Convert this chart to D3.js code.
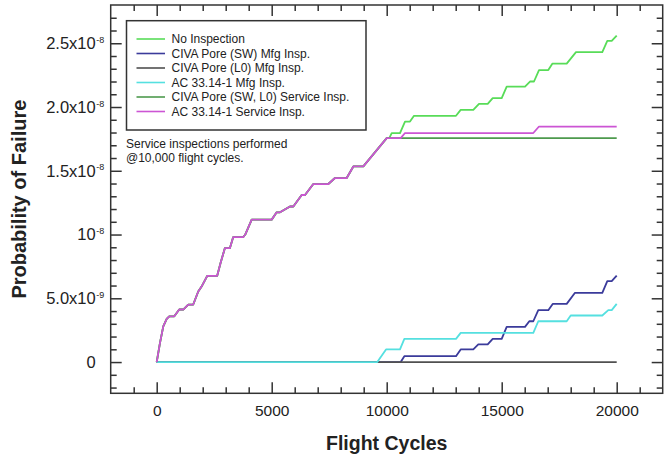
<!DOCTYPE html>
<html>
<head>
<meta charset="utf-8">
<script src="https://d3js.org/d3.v7.min.js"></script>
<style>
  body { margin: 0; background: #fff; }
  svg text { font-family: "Liberation Sans", Arial, sans-serif; fill: #222; }
</style>
</head>
<body>
<div id="chart"></div>
<script>
// probability of failure in units of 1e-9, flight cycles on x
// curve shared by all "no inspection" style series up to the 10,000 cycle inspection
var preInspection = [[0,0],[143,1.5],[286,2.8],[435,3.39],[547,3.59],[764,3.59],[980,4.12],[1155,4.12],
  [1371,4.51],[1588,4.51],[1806,5.53],[1952,5.92],[2197,6.76],[2630,6.76],[2776,7.76],[2963,8.93],
  [3180,8.93],[3324,9.79],[3757,9.79],[3850,10.0],[4130,11.17],[5000,11.17],[5217,11.74],[5361,11.74],
  [5796,12.2],[5940,12.2],[6304,13.1],[6448,13.1],[6810,13.96],[7461,13.96],[7752,14.43],[8261,14.43],
  [8550,15.34],[8983,15.34],[10000,17.56]];
var noInspectionAfter = [[10113,17.56],[10217,17.96],[10578,17.96],[10796,18.86],[11013,18.86],[11187,19.31],
  [13013,19.31],[13217,19.78],[13765,19.78],[14013,20.25],[14391,20.25],[14609,20.7],[15000,20.7],
  [15217,21.6],[16013,21.6],[16230,22.0],[16404,22.0],[16622,22.9],[17026,22.9],[17200,23.4],[17826,23.4],
  [18230,24.3],[19374,24.3],[19591,25.18],[19783,25.18],[20000,25.6]];
var civaSwMfg = [[0,0],[10609,0],[10767,0.46],[13013,0.46],[13217,0.99],[13765,0.99],[13983,1.38],[14391,1.38],
  [14609,1.82],[15000,1.82],[15217,2.76],[16013,2.76],[16200,3.2],[16374,3.2],[16591,4.07],[17026,4.07],
  [17217,4.56],[17826,4.56],[18187,5.43],[19374,5.43],[19591,6.34],[19783,6.34],[20000,6.78]];
var civaL0Mfg = [[0,0],[20000,0]];
var acMfg = [[0,0],[9591,0],[9970,0.99],[10578,0.99],[10767,1.82],[13013,1.82],[13217,2.29],[16374,2.29],
  [16591,3.2],[17826,3.2],[18000,3.65],[19374,3.65],[19635,4.07],[19783,4.07],[20000,4.56]];
var civaServiceAfter = [[20000,17.56]];
var acServiceAfter = [[10609,17.56],[10796,17.96],[16374,17.96],[16622,18.47],[20000,18.47]];

var seriesNames = ["No Inspection", "CIVA Pore (SW) Mfg Insp.", "CIVA Pore (L0) Mfg Insp.",
  "AC 33.14-1 Mfg Insp.", "CIVA Pore (SW, L0) Service Insp.", "AC 33.14-1 Service Insp."];
var seriesColors = ["#58dc58", "#3b3b9b", "#505050", "#55e0e0", "#4e9a4e", "#cc55d4"];

var xMajor = [0, 5000, 10000, 15000, 20000];
var yTickValues = [0, 5, 10, 15, 20, 25];
var yTickBase = ["0", "5.0x10", "10", "1.5x10", "2.0x10", "2.5x10"];
var yTickSup = ["", "-9", "-8", "-8", "-8", "-8"];

var series = [
  preInspection.concat(noInspectionAfter),
  civaSwMfg,
  civaL0Mfg,
  acMfg,
  preInspection.concat(civaServiceAfter),
  preInspection.concat(acServiceAfter)
].map(function(v, i) { return {name: seriesNames[i], color: seriesColors[i], values: v}; });

var width = 670, height = 458;
var plotLeft = 110.7, plotRight = 662.7, plotTop = 5, plotBottom = 393.3;

var svg = d3.select("#chart").append("svg")
  .attr("width", width).attr("height", height);

var x = d3.scaleLinear().domain([-2000, 22000]).range([plotLeft, plotRight]);
var y = d3.scaleLinear().domain([-2.45, 28]).range([plotBottom, plotTop]);

var xMinor = d3.range(-1000, 22000, 1000).filter(function(d) { return d % 5000 !== 0; });
var yMinor = d3.range(-2, 28, 1).filter(function(d) { return d % 5 !== 0; });
var yMajor = d3.range(0, 28, 5);

function clean(g) {
  g.select(".domain").remove();
  g.selectAll("line").attr("stroke", "#333").attr("stroke-width", 1.5);
}

// ticks point inward on all four sides
svg.append("g").attr("transform", "translate(0," + plotBottom + ")")
  .call(d3.axisBottom(x).tickValues(xMinor).tickSize(-6).tickFormat("")).call(clean);
svg.append("g").attr("transform", "translate(0," + plotBottom + ")")
  .call(d3.axisBottom(x).tickValues(xMajor).tickSize(-11).tickPadding(12).tickFormat(d3.format("d")))
  .call(clean)
  .selectAll("text").attr("font-size", 15.5).attr("fill", "#222");
svg.append("g").attr("transform", "translate(0," + plotTop + ")")
  .call(d3.axisTop(x).tickValues(xMinor).tickSize(-6).tickFormat("")).call(clean);
svg.append("g").attr("transform", "translate(0," + plotTop + ")")
  .call(d3.axisTop(x).tickValues(xMajor).tickSize(-11).tickFormat("")).call(clean);

svg.append("g").attr("transform", "translate(" + plotLeft + ",0)")
  .call(d3.axisLeft(y).tickValues(yMinor).tickSize(-6).tickFormat("")).call(clean);
svg.append("g").attr("transform", "translate(" + plotLeft + ",0)")
  .call(d3.axisLeft(y).tickValues(yMajor).tickSize(-11).tickFormat("")).call(clean);
svg.append("g").attr("transform", "translate(" + plotRight + ",0)")
  .call(d3.axisRight(y).tickValues(yMinor).tickSize(-6).tickFormat("")).call(clean);
svg.append("g").attr("transform", "translate(" + plotRight + ",0)")
  .call(d3.axisRight(y).tickValues(yMajor).tickSize(-11).tickFormat("")).call(clean);

// y tick labels with superscript exponents
var yLab = svg.append("g").selectAll("g")
  .data(yTickValues)
  .enter().append("g")
  .attr("transform", function(d) { return "translate(" + (plotLeft - 15) + "," + y(d) + ")"; });
yLab.append("text")
  .attr("text-anchor", "end")
  .attr("dy", "0.35em")
  .attr("font-size", 16.5)
  .text(function(d, i) { return yTickBase[i]; });
yLab.append("text")
  .attr("x", 0.5)
  .attr("dy", "-0.05em")
  .attr("font-size", 9)
  .text(function(d, i) { return yTickSup[i]; });

// frame
svg.append("rect")
  .attr("x", plotLeft).attr("y", plotTop)
  .attr("width", plotRight - plotLeft).attr("height", plotBottom - plotTop)
  .attr("fill", "none").attr("stroke", "#333").attr("stroke-width", 1.5);

// curves
var line = d3.line()
  .x(function(d) { return x(d[0]); })
  .y(function(d) { return y(d[1]); });

svg.append("g").selectAll("path")
  .data(series)
  .enter().append("path")
  .attr("d", function(d) { return line(d.values); })
  .attr("fill", "none")
  .attr("stroke", function(d) { return d.color; })
  .attr("stroke-width", 1.8)
  .attr("stroke-linejoin", "round");

// legend
var legendX = 126.5, legendY = 20.7;
svg.append("rect")
  .attr("x", legendX).attr("y", legendY)
  .attr("width", 239.5).attr("height", 109.3)
  .attr("fill", "#fff").attr("stroke", "#333").attr("stroke-width", 1.5);

var legend = svg.selectAll(".legend")
  .data(series)
  .enter().append("g")
  .attr("class", "legend")
  .attr("transform", function(d, i) { return "translate(" + legendX + "," + (39 + i * 14.5) + ")"; });
legend.append("line")
  .attr("x1", 10).attr("x2", 38.5)
  .attr("stroke", function(d) { return d.color; })
  .attr("stroke-width", 1.6);
legend.append("text")
  .attr("x", 45)
  .attr("dy", "0.35em")
  .attr("font-size", 12)
  .text(function(d) { return d.name; });

// note
svg.append("text").attr("x", 126).attr("y", 147.5).attr("font-size", 12)
  .text("Service inspections performed");
svg.append("text").attr("x", 126).attr("y", 162).attr("font-size", 12)
  .text("@10,000 flight cycles.");

// axis titles
svg.append("text")
  .attr("x", (plotLeft + plotRight) / 2).attr("y", 450)
  .attr("text-anchor", "middle")
  .attr("font-size", 19.5).attr("font-weight", "bold")
  .text("Flight Cycles");
svg.append("text")
  .attr("transform", "translate(26," + (plotTop + plotBottom) / 2 + ") rotate(-90)")
  .attr("text-anchor", "middle")
  .attr("font-size", 20).attr("font-weight", "bold")
  .text("Probability of Failure");
</script>
</body>
</html>
